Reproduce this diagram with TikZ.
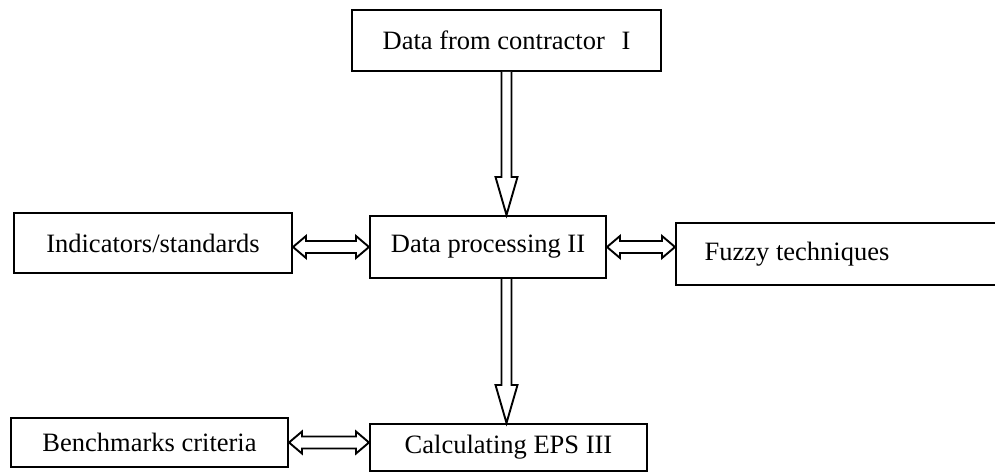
\documentclass[tikz,border=0pt]{standalone}
\usepackage{fontspec}
\setmainfont{Liberation Serif}
\usetikzlibrary{calc}
\begin{document}
\begin{tikzpicture}[x=1pt,y=1pt,
  box/.style={draw, line width=2pt, rectangle, inner sep=0pt,
    font=\fontsize{26.5}{30}\selectfont},
  hollow/.style={draw, line width=1.9pt, line join=miter, fill=white}]
\useasboundingbox (0,0) rectangle (995,472);
\clip (0,0) rectangle (995,472);

% boxes
\node[box, minimum width=309, minimum height=61] (top) at (506.5,431.5)
  {Data from contractor\hspace{10pt} I};
\node[box, minimum width=278, minimum height=60] (ind) at (153,229)
  {Indicators/standards};
\node[box, minimum width=236, minimum height=62] (proc) at (488,225)
  {Data processing II};
\node[box, minimum width=330, minimum height=62, anchor=west] (fuzzy) at (675,218)
  {Fuzzy techniques\hspace*{88pt}};
\node[box, minimum width=277, minimum height=49] (bench) at (149.5,29.5)
  {Benchmarks criteria};
\node[box, minimum width=277, minimum height=47] (calc) at (508.5,24.5)
  {Calculating EPS III};

% end points of the hollow arrows
\coordinate (d1s) at (top.south);
\coordinate (d1e) at (top.south |- proc.north);
\coordinate (d2s) at (proc.south -| top.south);
\coordinate (d2e) at (calc.north -| top.south);
\coordinate (h1l) at (ind.east |- proc.west);
\coordinate (h1r) at (proc.west);
\coordinate (h2l) at (proc.east);
\coordinate (h2r) at (fuzzy.west |- proc.east);
\coordinate (h3l) at (bench.east);
\coordinate (h3r) at (calc.west |- bench.east);

% downward hollow arrows
\foreach \s/\e in {d1s/d1e, d2s/d2e}{
  \draw[hollow] ($(\s)+(-5,0)$) -- ($(\e)+(-5,38)$) -- ($(\e)+(-11,38)$)
    -- (\e) -- ($(\e)+(11,38)$) -- ($(\e)+(5,38)$) -- ($(\s)+(5,0)$);
}

% two-headed hollow arrows
\foreach \l/\r in {h1l/h1r, h2l/h2r, h3l/h3r}{
  \draw[hollow] (\l) -- ($(\l)+(13,11)$) -- ($(\l)+(13,6)$) -- ($(\r)+(-13,6)$)
    -- ($(\r)+(-13,11)$) -- (\r) -- ($(\r)+(-13,-11)$) -- ($(\r)+(-13,-6)$)
    -- ($(\l)+(13,-6)$) -- ($(\l)+(13,-11)$) -- cycle;
}
\end{tikzpicture}
\end{document}
